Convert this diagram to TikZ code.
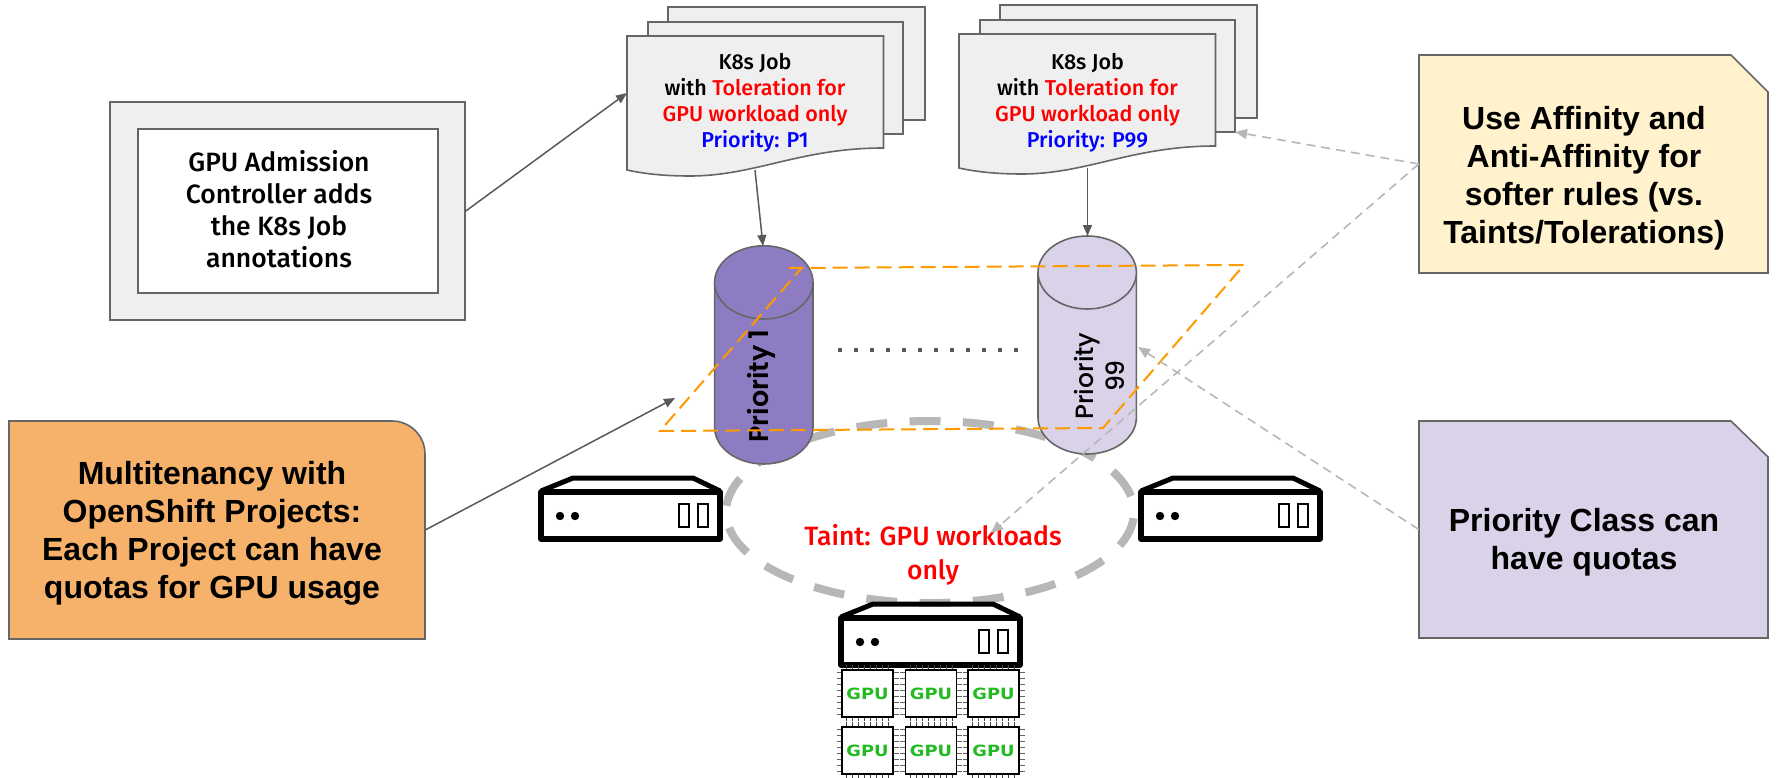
\documentclass[tikz,border=0pt]{standalone}
\usepackage{fontspec}
\setmainfont{Liberation Sans}
\newfontfamily\rh{Fira Sans}[UprightFont={* Medium},BoldFont={* SemiBold}]
\newfontfamily\pp{Poppins}[UprightFont={* Medium}]
\newfontfamily\ppb{Poppins}[UprightFont={* SemiBold}]
\usetikzlibrary{arrows.meta}
\definecolor{edgeg}{HTML}{666666}
\definecolor{arrowg}{HTML}{595959}
\definecolor{softg}{HTML}{B7B7B7}
\definecolor{paper}{HTML}{EFEFEF}
\definecolor{noteY}{HTML}{FFF2CC}
\definecolor{noteP}{HTML}{D9D2E9}
\definecolor{noteO}{HTML}{F6B26B}
\definecolor{cylD}{HTML}{8E7CC3}
\definecolor{orng}{HTML}{FF9900}
\definecolor{gpug}{HTML}{22BB22}
\tikzset{
  shapeline/.style={draw=edgeg,line width=1.6pt},
  jobpage/.style={shapeline,fill=paper},
  arrowline/.style={draw=arrowg,line width=1.5pt,-{Triangle[length=11pt,width=9pt]}},
  softarrow/.style={draw=softg,line width=1.6pt,dash pattern=on 9pt off 6pt,-{Triangle[length=12pt,width=10pt]}},
  jobtext/.style={font=\rh\fontsize{21.5}{26}\selectfont,align=center,inner sep=0pt},
  boxtext/.style={font=\rh\fontsize{26.5}{32}\selectfont,align=center,inner sep=0pt},
  notetext/.style={font=\bfseries\fontsize{32}{38}\selectfont,align=center,inner sep=0pt},
  cyltext/.style={align=center,inner sep=0pt,rotate=90},
  chip/.style={draw=black,line width=1.4pt,fill=white,minimum width=51pt,minimum height=47pt,inner sep=0pt,
    font=\fontspec{DejaVu Sans Bold}\fontsize{15.5}{16}\selectfont,text=gpug},
  server/.pic={
    \draw[line width=5pt,line join=round] (3,16)--(35,3)--(155,3)--(182,16);
    \draw[line width=5.5pt,fill=white,line join=round] (3,17) rectangle (182,64);
    \fill (22,41) circle (4.2) (37,41) circle (4.2);
    \draw[line width=2.5pt] (141,29) rectangle (151,52) (160,29) rectangle (170,52);
  }
}
\begin{document}
\begin{tikzpicture}[x=1pt,y=-1pt]
\useasboundingbox (0,0) rectangle (1777,778);

% Admission box
\node[shapeline,fill=paper,minimum width=355pt,minimum height=218pt,inner sep=0pt] (outer) at (287.5,211) {};
\node[shapeline,fill=white,minimum width=300pt,minimum height=164pt,inner sep=0pt] (inner) at (288,211) {};
\node[boxtext] (innertext) at (279,209) {GPU Admission\\Controller adds\\the K8s Job\\annotations};

% Job stacks
\foreach \dx/\dy in {0/0,332/-2}{
\begin{scope}[shift={(\dx,\dy)}]
  \draw[jobpage] (668,7) rectangle (925,120);
  \draw[jobpage] (648,22) rectangle (903,134);
  \draw[jobpage] (627,36)--(883.5,36)--(883.5,148) .. controls (800,148) and (755,176) .. (690,176)
     .. controls (665,176) and (645,174) .. (627,170) -- cycle;
\end{scope}}
\node[jobtext] (jobA) at (755,103) {K8s Job\\with \textcolor{red}{Toleration for}\\\textcolor{red}{GPU workload only}\\\textcolor{blue}{Priority: P1}};
\node[jobtext] (jobB) at (1087.5,103) {K8s Job\\with \textcolor{red}{Toleration for}\\\textcolor{red}{GPU workload only}\\\textcolor{blue}{Priority: P99}};
\coordinate (jobAfoot) at (755,170);
\coordinate (jobBfoot) at (1087.5,168);
\coordinate (jobAside) at (627,93);
\coordinate (jobBside) at (1235,132);

% Taint ring
\draw[softg,line width=8pt,dash pattern=on 31pt off 22.4pt,dash phase=20.5pt]
  (930,421) arc[start angle=-90,end angle=270,x radius=204,y radius=91];

% Cylinders
\draw[shapeline,fill=cylD] (714.6,282.4)--(714.6,427.4) arc[start angle=180,end angle=0,x radius=49.2,y radius=36.6]--(813,282.4)--cycle;
\draw[shapeline,fill=cylD] (763.8,282.4) ellipse[x radius=49.2,y radius=36.6];
\draw[shapeline,fill=noteP] (1038,272.5)--(1038,417.5) arc[start angle=180,end angle=0,x radius=49.2,y radius=36.5]--(1136.4,272.5)--cycle;
\draw[shapeline,fill=noteP] (1087.2,272.5) ellipse[x radius=49.2,y radius=36.5];
\node[cyltext,font=\ppb\fontsize{27}{31}\selectfont] (prioA) at (761,386) {Priority 1};
\node[cyltext,font=\pp\fontsize{25}{31}\selectfont] (prioB) at (1099,376) {Priority\\99};
\coordinate (cylAtop) at (763,246);
\coordinate (cylBtop) at (1087.5,236);
\coordinate (cylBside) at (1138,347);

% Dots between cylinders
\coordinate (dotsA) at (838,350);
\coordinate (dotsB) at (1018,350);
\draw[arrowg,line width=4pt,dash pattern=on 4pt off 12pt] (dotsA)--(dotsB);

% Servers
\pic at (538,475) {server};
\pic at (1138,475) {server};
\pic at (838,601) {server};

% GPU chips
\foreach \cx in {867.5,931,993.5}{
  \foreach \cy in {693.5,750.5}{
    \foreach \k in {-21,-15,-9,-3,3,9,15,21}{
      \draw[edgeg,line width=1.3pt] (\cx-31,\cy+\k)--(\cx+31,\cy+\k);
      \draw[black!75,line width=1pt] (\cx+\k,\cy-28.5)--(\cx+\k,\cy+27.5);
    }
  }
}
\foreach \cx/\cn in {867.5/a,931/b,993.5/c}{
  \foreach \cy/\rn in {693.5/u,750.5/l}{
    \node[chip] (gpu\cn\rn) at (\cx,\cy) {\scalebox{1.15}[1]{GPU}};
  }
}

% Taint label
\node[font=\rh\fontsize{26.5}{34}\selectfont,text=red,align=center,inner sep=0pt] (taint) at (933,555) {Taint: GPU workloads\\only};
\coordinate (taintTip) at (991,533);

% Orange plane
\coordinate (planeTLx) at (788.5,268);
\coordinate (planeTR) at (1244,265);
\coordinate (planeBR) at (1103,428);
\coordinate (planeBL) at (660,431);
\coordinate (planeTL) at (801.6,268);
\coordinate (planeHit) at (675,398);
\draw[orng,line width=2pt,dash pattern=on 15pt off 7pt] (planeTLx)--(planeTR)--(planeBR)--(planeBL)--(planeTL);

% Notes
\draw[shapeline,fill=noteO] (9,421)--(392,421) arc[start angle=-90,end angle=0,radius=33]--(425,639)--(9,639)--cycle;
\node[minimum width=416pt,minimum height=218pt,inner sep=0pt] (orange) at (217,530) {};
\node[notetext] (orangetext) at (212,533.5) {Multitenancy with\\OpenShift Projects:\\Each Project can have\\quotas for GPU usage};
\draw[shapeline,fill=noteY] (1419,55)--(1731,55)--(1768,92)--(1768,273)--(1419,273)--cycle;
\node[minimum width=349pt,minimum height=218pt,inner sep=0pt] (yellow) at (1593.5,164) {};
\node[notetext] (yellowtext) at (1584,178) {Use Affinity and\\Anti-Affinity for\\softer rules (vs.\\Taints/Tolerations)};
\draw[shapeline,fill=noteP] (1419,421)--(1731,421)--(1768,457)--(1768,638)--(1419,638)--cycle;
\node[minimum width=349pt,minimum height=217pt,inner sep=0pt] (purple) at (1593.5,529.5) {};
\node[notetext] (purpletext) at (1584,542) {Priority Class can\\have quotas};

% Connectors
\draw[arrowline] (outer.east)--(jobAside);
\draw[arrowline] (jobAfoot)--(cylAtop);
\draw[arrowline] (jobBfoot)--(cylBtop);
\draw[arrowline] (orange.east)--(planeHit);
\draw[softarrow] (yellow.west)--(jobBside);
\draw[softarrow] (yellow.west)--(taintTip);
\draw[softarrow] (purple.west)--(cylBside);
\end{tikzpicture}
\end{document}
